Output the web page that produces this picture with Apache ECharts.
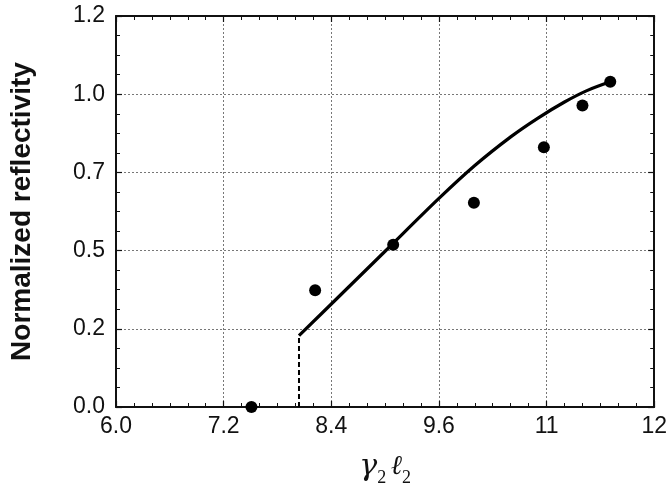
<!DOCTYPE html>
<html><head><meta charset="utf-8">
<script src="https://cdn.jsdelivr.net/npm/echarts@6/dist/echarts.min.js"></script>
<style>html,body{margin:0;padding:0;background:#fff}#c{width:670px;height:492px}</style>
</head><body><div id="c"></div>
<script>
var xTickLabels = ["6.0","7.2","8.4","9.6","11","12"];
var yTickLabels = ["0.0","0.2","0.5","0.7","1.0","1.2"];
var measuredX = [7.51, 8.22, 9.09, 9.99, 10.77, 11.20, 11.51];
var measuredY = [0.0, 0.358, 0.498, 0.627, 0.797, 0.925, 0.998];
var curveX = [8.04, 8.5, 9.0, 9.6, 10.0, 10.4, 10.7, 11.0, 11.25, 11.51];
var curveY = [0.219, 0.343, 0.478, 0.640, 0.741, 0.829, 0.886, 0.936, 0.971, 0.998];
var cutoffX = [8.04, 8.04];
var cutoffY = [0.0, 0.219];

function zip(a, b){ return a.map(function(v,i){ return [v, b[i]]; }); }
var chart = echarts.init(document.getElementById('c'), null, {renderer:'canvas'});
var font = '"Liberation Sans", Arial, Helvetica, sans-serif';
var axisCommon = {
  axisLine:{show:true, onZero:false, lineStyle:{color:'#111', width:2}},
  axisTick:{show:true, inside:true, length:6, lineStyle:{color:'#111', width:1.2}},
  minorTick:{show:true, length:4, lineStyle:{color:'#111', width:1}}
};
function xa(extra){ return Object.assign({type:'value', min:6, max:12, interval:1.2}, axisCommon, extra); }
function ya(extra){ return Object.assign({type:'value', min:0, max:1.2, interval:0.24}, axisCommon, extra); }
chart.setOption({
  animation:false,
  backgroundColor:'#fff',
  grid:{left:114, top:16, right:15, bottom:83, containLabel:false},
  xAxis:[
    xa({position:'bottom',
      minorTick:{show:true, splitNumber:6, length:4, lineStyle:{color:'#111', width:1}},
      splitLine:{show:true, lineStyle:{color:'#777', type:[2,2], width:1}},
      axisLabel:{margin:8, fontFamily:font, fontSize:23, color:'#111',
        formatter:function(v){ return xTickLabels[Math.round((v-6)/1.2)]; }},
      name:'{g|γ}{s|2}{sp| }{l|ℓ}{s|2}', nameLocation:'middle', nameGap:40,
      nameTextStyle:{rich:{
        g:{fontFamily:'"DejaVu Serif", "Liberation Serif", serif', fontStyle:'italic', fontSize:30, color:'#111'},
        l:{fontFamily:'"DejaVu Serif", "Liberation Serif", serif', fontStyle:'italic', fontSize:27, color:'#111'},
        sp:{fontSize:16},
        s:{fontFamily:'"Liberation Serif", serif', fontSize:18, color:'#111', padding:[22,0,0,0]}
      }}
    }),
    xa({position:'top',
      minorTick:{show:true, splitNumber:6, length:4, lineStyle:{color:'#111', width:1}},
      splitLine:{show:false}, axisLabel:{show:false}})
  ],
  yAxis:[
    ya({position:'left',
      minorTick:{show:true, splitNumber:4, length:4, lineStyle:{color:'#111', width:1}},
      splitLine:{show:true, lineStyle:{color:'#777', type:[2,2], width:1}},
      axisLabel:{margin:11, fontFamily:font, fontSize:23, color:'#111',
        formatter:function(v){ return yTickLabels[Math.round(v/0.24)]; }},
      name:'Normalized reflectivity', nameLocation:'middle', nameGap:80,
      nameTextStyle:{fontFamily:font, fontWeight:'bold', fontSize:28, color:'#111'}
    }),
    ya({position:'right',
      minorTick:{show:true, splitNumber:4, length:4, lineStyle:{color:'#111', width:1}},
      splitLine:{show:false}, axisLabel:{show:false}})
  ],
  series:[
    {type:'line', data:zip(curveX, curveY), smooth:0.3, showSymbol:false, symbol:'none',
      lineStyle:{color:'#000', width:3.2}, z:3},
    {type:'line', data:zip(cutoffX, cutoffY), showSymbol:false, symbol:'none',
      lineStyle:{color:'#000', width:2, type:[5,3]}, z:3},
    {type:'scatter', data:zip(measuredX, measuredY), symbol:'circle', symbolSize:12, clip:false,
      itemStyle:{color:'#000', opacity:1}, z:4}
  ]
});
</script></body></html>
